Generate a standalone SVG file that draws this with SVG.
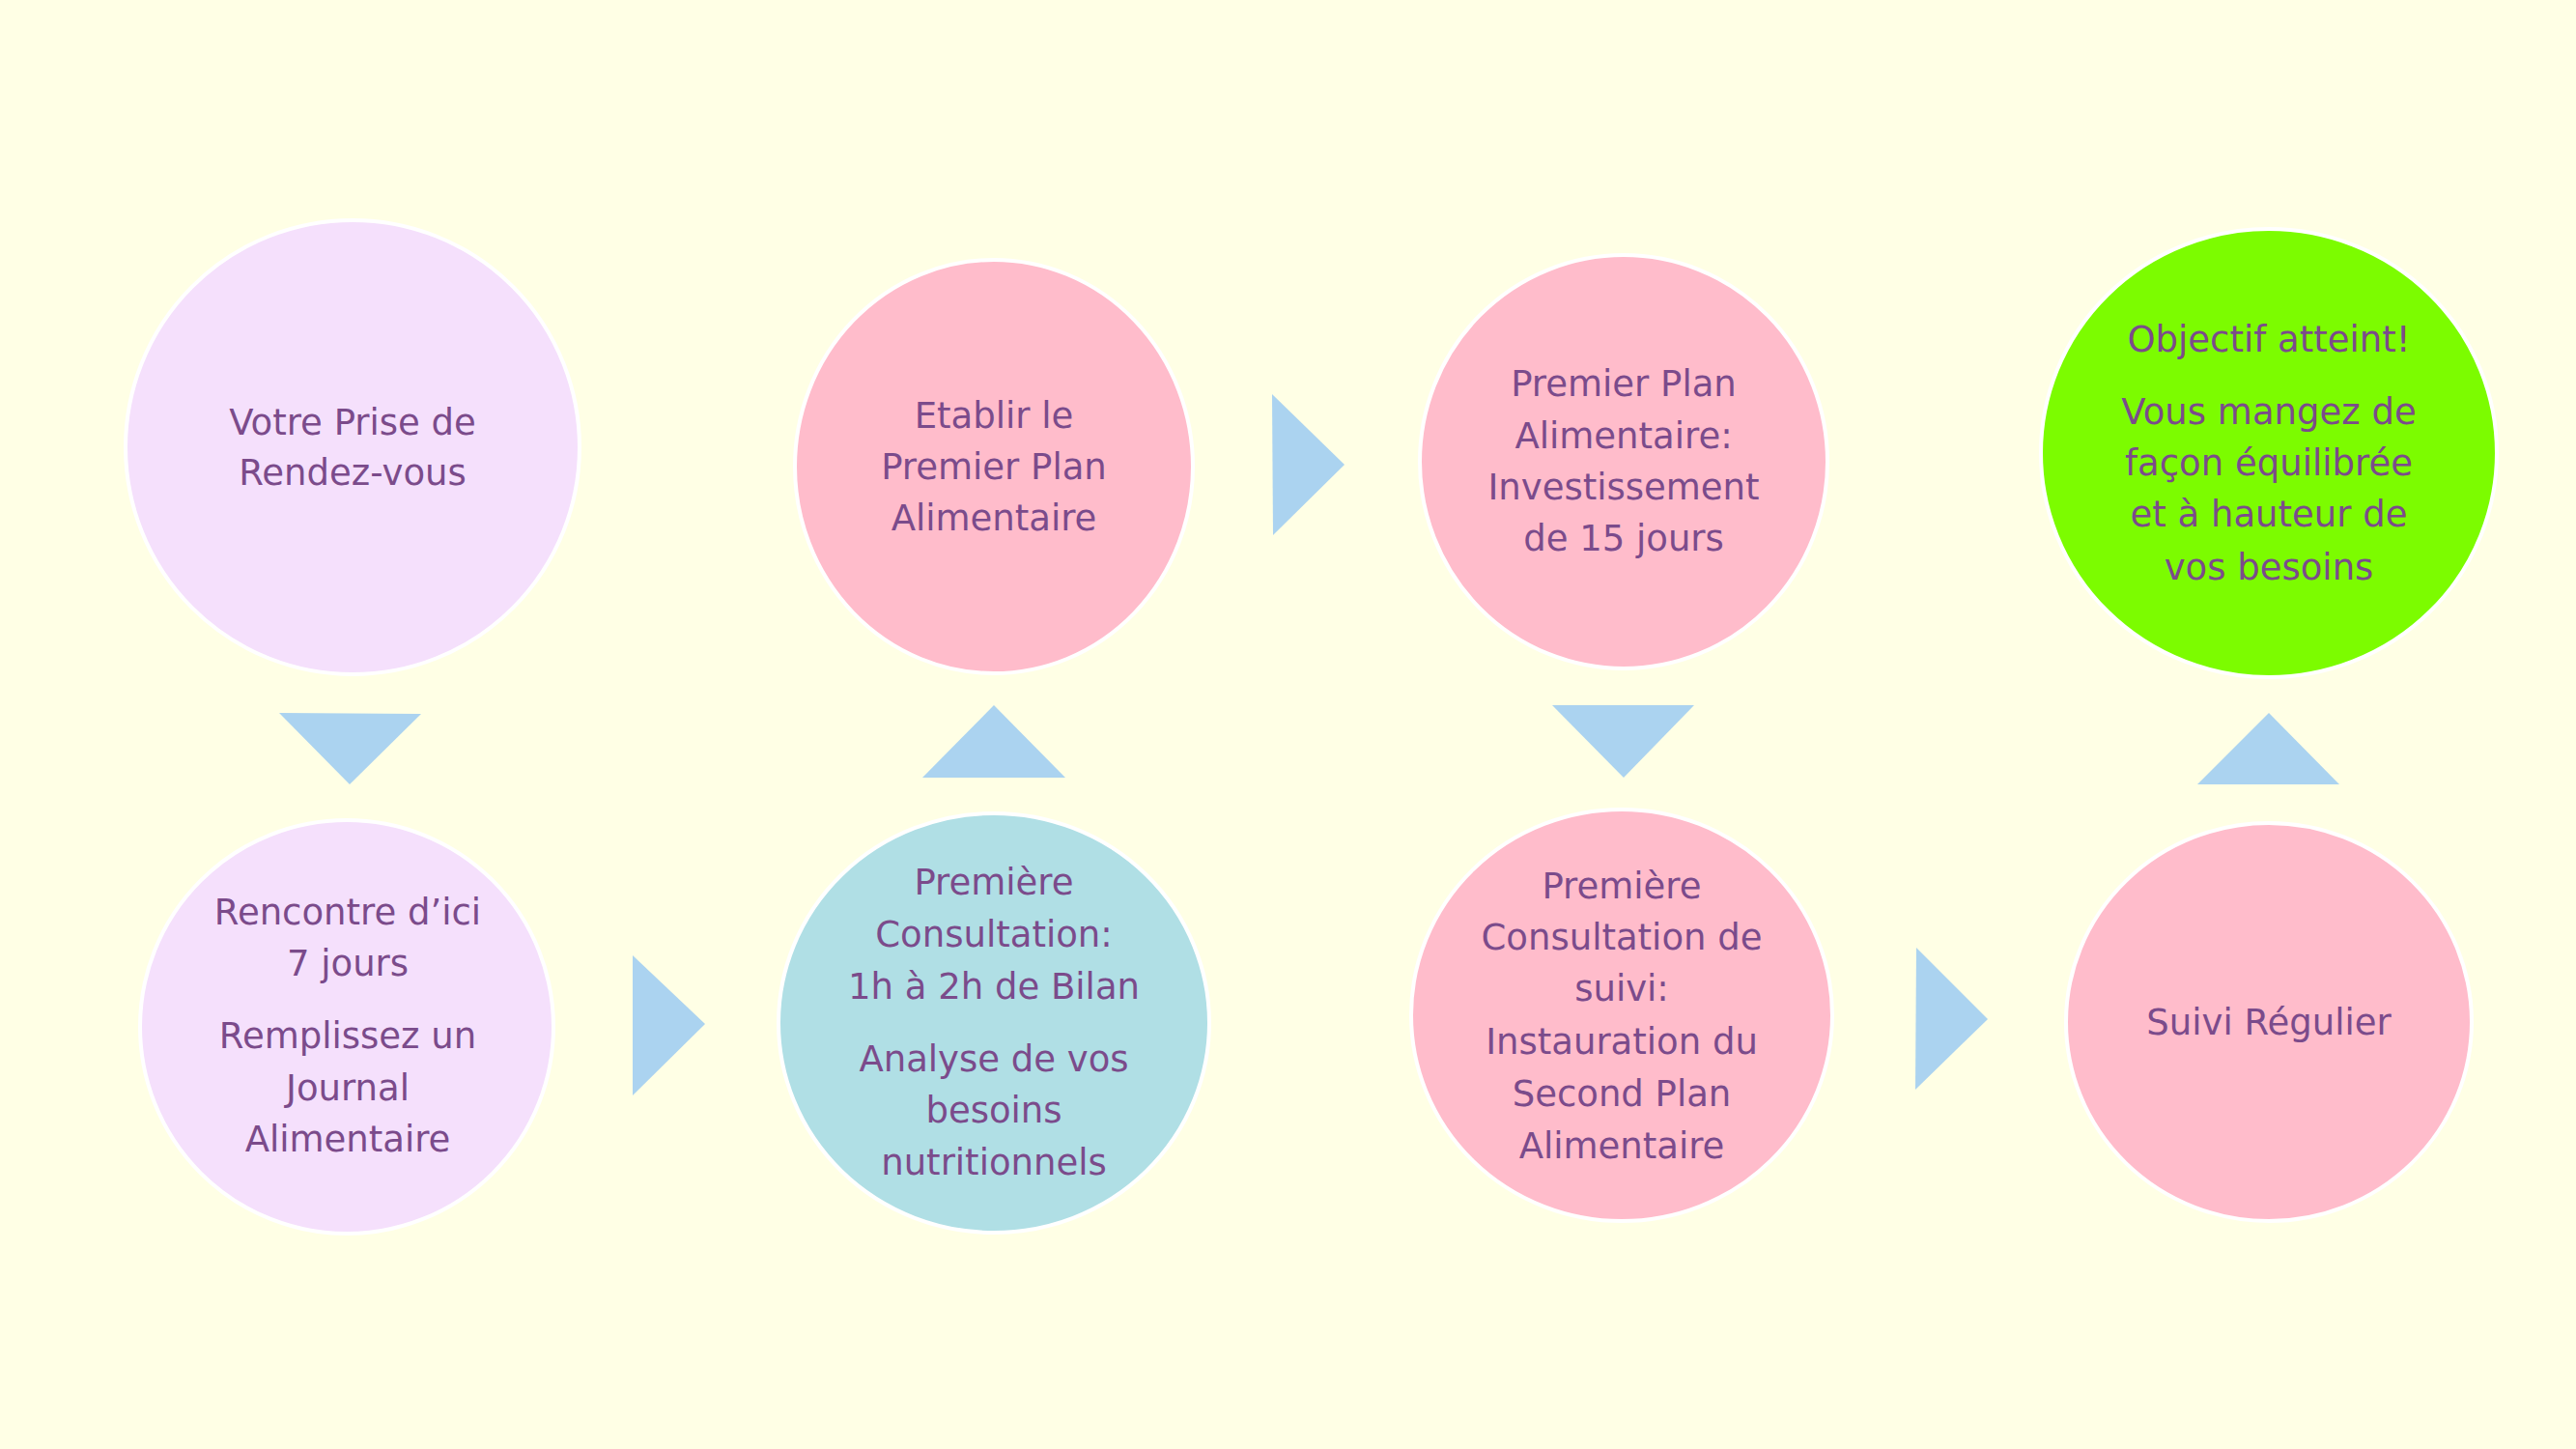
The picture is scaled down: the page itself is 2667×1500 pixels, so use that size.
<svg xmlns="http://www.w3.org/2000/svg" width="2667" height="1500" viewBox="0 0 2667 1500">
<style>
.n{stroke:#ffffff;stroke-width:4}
.lav{fill:#f5e0fc}
.pink{fill:#ffbccb}
.blue{fill:#b0dfe5}
.green{fill:#7cfc00}
.t{font-family:"DejaVu Sans",sans-serif;font-size:37px;fill:#7b4b8b;text-anchor:middle}
.a{fill:#abd3f0}
</style>
<rect x="0" y="0" width="2667" height="1500" fill="#ffffe5"/>
<g id="connectors">
<polygon class="a" points="289,738 436,739 362,812"/>
<polygon class="a" points="655,989 655,1134 730,1060"/>
<polygon class="a" points="1029,730 955,805 1103,805"/>
<polygon class="a" points="1317,408 1318,554 1392,481"/>
<polygon class="a" points="1607,730 1754,730 1681,805"/>
<polygon class="a" points="1984,981 1983,1128 2058,1055"/>
<polygon class="a" points="2349,738 2275,812 2422,812"/>
</g>
<g id="node1">
<circle class="n lav" cx="365" cy="463" r="235"/>
<text class="t" x="365" y="450">Votre Prise de</text>
<text class="t" x="365" y="502">Rendez-vous</text>
</g>
<g id="node2">
<circle class="n lav" cx="359" cy="1063" r="214"/>
<text class="t" x="360" y="957">Rencontre d’ici</text>
<text class="t" x="360" y="1010">7 jours</text>
<text class="t" x="360" y="1085">Remplissez un</text>
<text class="t" x="360" y="1139">Journal</text>
<text class="t" x="360" y="1192">Alimentaire</text>
</g>
<g id="node3">
<ellipse class="n pink" cx="1029" cy="483" rx="206" ry="214"/>
<text class="t" x="1029" y="443">Etablir le</text>
<text class="t" x="1029" y="496">Premier Plan</text>
<text class="t" x="1029" y="549">Alimentaire</text>
</g>
<g id="node4">
<ellipse class="n blue" cx="1029" cy="1059" rx="223" ry="217"/>
<text class="t" x="1029" y="926">Première</text>
<text class="t" x="1029" y="980">Consultation:</text>
<text class="t" x="1029" y="1034">1h à 2h de Bilan</text>
<text class="t" x="1029" y="1109">Analyse de vos</text>
<text class="t" x="1029" y="1162">besoins</text>
<text class="t" x="1029" y="1216">nutritionnels</text>
</g>
<g id="node5">
<ellipse class="n pink" cx="1681" cy="478" rx="211" ry="214"/>
<text class="t" x="1681" y="410">Premier Plan</text>
<text class="t" x="1681" y="464">Alimentaire:</text>
<text class="t" x="1681" y="517">Investissement</text>
<text class="t" x="1681" y="570">de 15 jours</text>
</g>
<g id="node6">
<ellipse class="n pink" cx="1679" cy="1051" rx="218" ry="213"/>
<text class="t" x="1679" y="930">Première</text>
<text class="t" x="1679" y="983">Consultation de</text>
<text class="t" x="1679" y="1036">suivi:</text>
<text class="t" x="1679" y="1091">Instauration du</text>
<text class="t" x="1679" y="1145">Second Plan</text>
<text class="t" x="1679" y="1199">Alimentaire</text>
</g>
<g id="node7">
<ellipse class="n pink" cx="2349" cy="1058" rx="210" ry="206"/>
<text class="t" x="2349" y="1071">Suivi Régulier</text>
</g>
<g id="node8">
<ellipse class="n green" cx="2349" cy="469" rx="236" ry="232"/>
<text class="t" x="2349" y="364">Objectif atteint!</text>
<text class="t" x="2349" y="439">Vous mangez de</text>
<text class="t" x="2349" y="492">façon équilibrée</text>
<text class="t" x="2349" y="545">et à hauteur de</text>
<text class="t" x="2349" y="600">vos besoins</text>
</g>
</svg>
